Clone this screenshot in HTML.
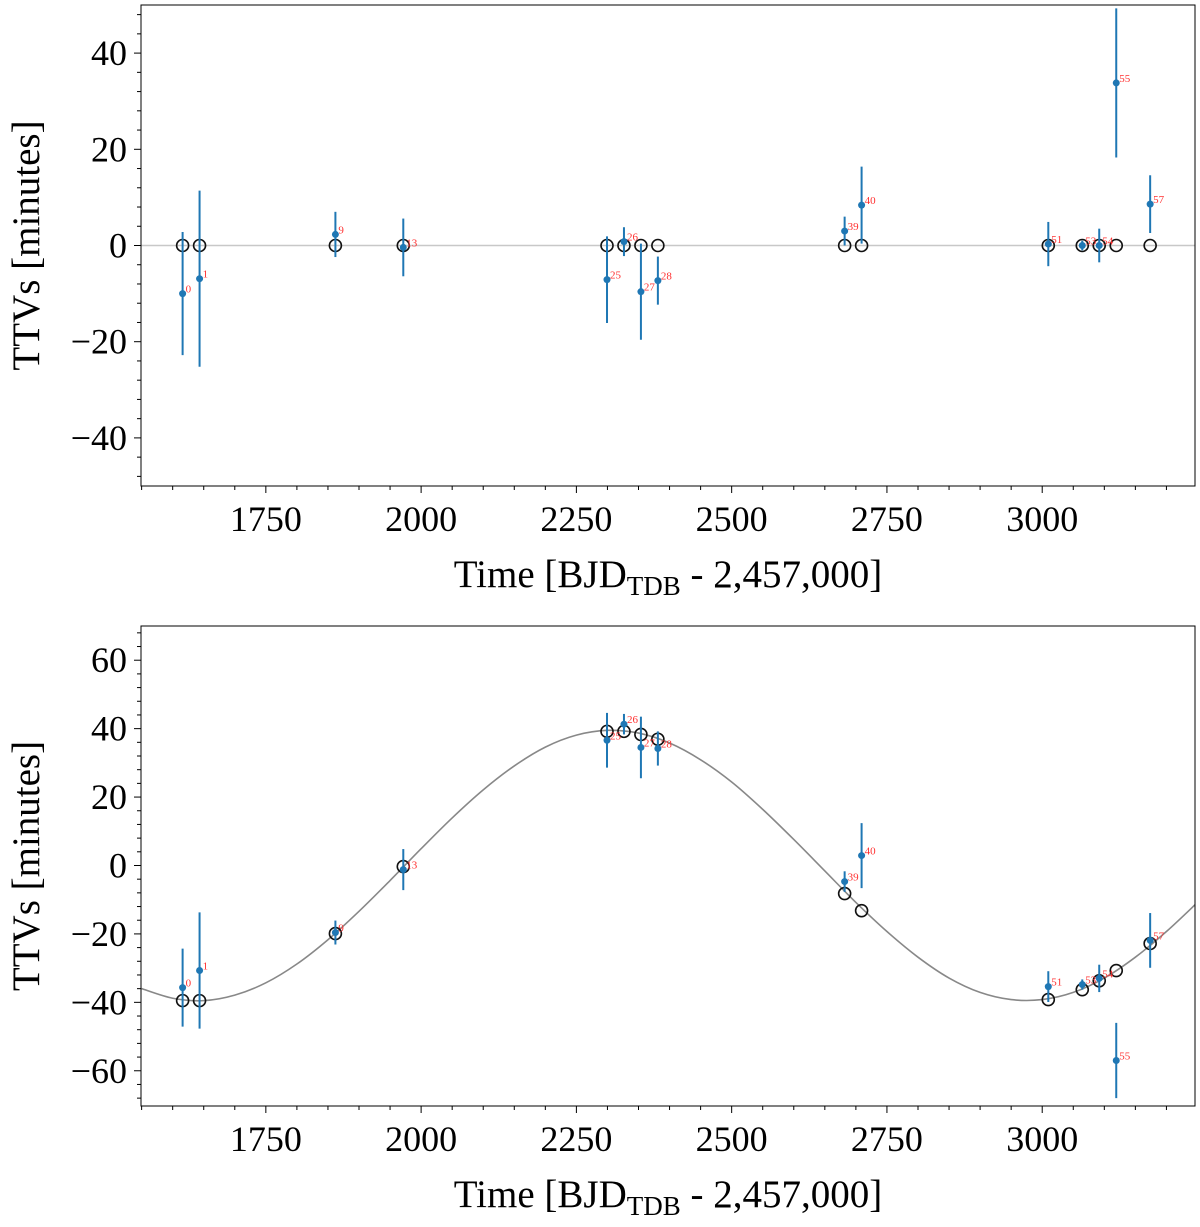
<!DOCTYPE html>
<html><head><meta charset="utf-8"><style>
html,body{margin:0;padding:0;background:#fff;}
svg text{font-family:"Liberation Serif","DejaVu Serif",serif;}
</style></head><body>
<svg id="chart" width="1200" height="1222" viewBox="0 0 1200 1222" xmlns="http://www.w3.org/2000/svg"></svg>
<script>
const epochs = [0,1,9,13,25,26,27,28,39,40,51,53,54,55,57];
const times = [1616.0,1643.3,1862.0,1971.3,2299.3,2326.6,2353.9,2381.2,2681.9,2709.2,3009.8,3064.5,3091.8,3119.2,3173.8];
const topObs = [-10.0,-6.9,2.3,-0.4,-7.1,0.8,-9.6,-7.3,3.0,8.4,0.3,0.0,0.0,33.8,8.6];
const topErr = [12.8,18.3,4.7,6,9,3,10,5,3,8,4.6,1,3.5,15.5,6];
const topModel = [0,0,0,0,0,0,0,0,0,0,0,0,0,0,0];
const botObs = [-35.7,-30.7,-19.6,-1.2,36.6,41.3,34.5,34.2,-4.7,2.9,-35.4,-34.8,-33.0,-57.0,-21.9];
const botErr = [11.4,17,3.5,6,8,3,9,5,3,9.5,4.5,1.5,4,11,8];
const botModel = [-39.5,-39.5,-19.9,-0.3,39.2,39.2,38.3,36.9,-8.2,-13.2,-39.2,-36.3,-33.7,-30.7,-22.8];
const curveT = [1550,1600,1650,1700,1750,1800,1850,1900,1950,2000,2050,2100,2150,2200,2250,2300,2350,2400,2450,2500,2550,2600,2650,2700,2750,2800,2850,2900,2950,3000,3050,3100,3150,3200,3250];
const curveV = [-36.0,-38.8,-39.5,-37.9,-34.3,-28.8,-21.7,-13.4,-4.4,4.9,13.9,22.1,29.1,34.6,38.1,39.5,38.7,35.8,30.9,24.4,16.4,7.6,-1.6,-10.8,-19.3,-26.8,-32.9,-37.1,-39.2,-39.2,-37.1,-32.9,-26.8,-19.3,-10.8];
const xTicks = [1750,2000,2250,2500,2750,3000];
const topYTicks = [-40,-20,0,20,40];
const botYTicks = [-60,-40,-20,0,20,40,60];

const NS = "http://www.w3.org/2000/svg";
const svg = document.getElementById('chart');
function mk(tag, attrs, parent){const e=document.createElementNS(NS,tag);for(const k in attrs)e.setAttribute(k,attrs[k]);(parent||svg).appendChild(e);return e;}
const defs = mk('defs',{});

function panel(cfg){
  const L=141,R=1195,T=cfg.top,B=cfg.bottom;
  const xmin=1549,xmax=3246;
  const xs=t=>L+(t-xmin)/(xmax-xmin)*(R-L);
  const ys=v=>B-(v-cfg.ymin)/(cfg.ymax-cfg.ymin)*(B-T);
  const cp=mk('clipPath',{id:'clip-'+cfg.name},defs);
  mk('rect',{x:L,y:T,width:R-L,height:B-T},cp);
  const g=mk('g',{});
  
  
  for(let t=1550;t<=3246;t+=50){
    const major=xTicks.indexOf(t)>=0;
    const tk=mk('line',{x1:xs(t),x2:xs(t),y1:B,y2:B+(major?7:4),stroke:'#000','stroke-width':1},g);
    
    
  }
  xTicks.forEach(t=>{
    const tx=mk('text',{x:xs(t),y:B+45,'font-size':36,'text-anchor':'middle'},g);
    
    
    tx.textContent=t;
  });
  for(let v=Math.ceil(cfg.ymin/4)*4;v<=cfg.ymax;v+=4){
    const major=v%20===0;
    const tk=mk('line',{x1:L,x2:L-(major?7:4),y1:ys(v),y2:ys(v),stroke:'#000','stroke-width':1},g);
    
    
  }
  cfg.yTicks.forEach(v=>{
    const tx=mk('text',{x:L-14,y:ys(v)+12,'font-size':36,'text-anchor':'end'},g);
    
    
    tx.textContent=(v<0?'\u2212'+(-v):v);
  });
  const xl=mk('text',{x:668,y:B+101,'font-size':39,'text-anchor':'middle'},g);
  
  
  xl.innerHTML='Time [BJD<tspan font-size="27" dy="8">TDB</tspan><tspan dy="-8"> - 2,457,000]</tspan>';
  const yl=mk('text',{x:0,y:0,'font-size':39,'text-anchor':'middle',transform:`translate(39,${(T+B)/2}) rotate(-90)`},g);
  
  
  yl.textContent='TTVs [minutes]';
  const clip=mk('g',{'clip-path':`url(#clip-${cfg.name})`},g);
  if(cfg.zeroLine){
    const zl=mk('line',{x1:L,x2:R,y1:ys(0),y2:ys(0),stroke:'#c8c8c8','stroke-width':1.5},clip);
    
    
  }
  if(cfg.curve){
    const P=curveT.map((t,i)=>[xs(t),ys(curveV[i])]);
    let d='M'+P[0][0].toFixed(2)+','+P[0][1].toFixed(2);
    for(let i=0;i<P.length-1;i++){
      const p0=P[Math.max(0,i-1)],p1=P[i],p2=P[i+1],p3=P[Math.min(P.length-1,i+2)];
      const c1=[p1[0]+(p2[0]-p0[0])/6,p1[1]+(p2[1]-p0[1])/6];
      const c2=[p2[0]-(p3[0]-p1[0])/6,p2[1]-(p3[1]-p1[1])/6];
      d+=`C${c1[0].toFixed(2)},${c1[1].toFixed(2)} ${c2[0].toFixed(2)},${c2[1].toFixed(2)} ${p2[0].toFixed(2)},${p2[1].toFixed(2)}`;
    }
    const p=mk('path',{d:d,fill:'none',stroke:'#888','stroke-width':1.6},clip);
    
    
  }
  cfg.model.forEach((v,i)=>{
    const c=mk('circle',{cx:xs(times[i]),cy:ys(v),r:6,fill:'none',stroke:'#111','stroke-width':1.6},clip);
    
    
  });
  cfg.obs.forEach((v,i)=>{
    const x=xs(times[i]);
    const e=mk('line',{x1:x,x2:x,y1:ys(v+cfg.err[i]),y2:ys(v-cfg.err[i]),stroke:'#1f77b4','stroke-width':2},clip);
    
    
    const c=mk('circle',{cx:x,cy:ys(v),r:3.5,fill:'#1f77b4'},clip);
    
    
    const lb=mk('text',{x:x+3,y:ys(v)-1,'font-size':11,fill:'#ff3030'},clip);
    
    
    lb.textContent=epochs[i];
  });
  const fr=mk('rect',{x:L,y:T,width:R-L,height:B-T,fill:'none',stroke:'#000','stroke-width':1},g);
  
  
}
panel({name:'top-panel',top:5,bottom:486,ymin:-50,ymax:50,yTicks:topYTicks,obs:topObs,err:topErr,model:topModel,zeroLine:true,curve:false});
panel({name:'bottom-panel',top:626,bottom:1106,ymin:-70.3,ymax:70,yTicks:botYTicks,obs:botObs,err:botErr,model:botModel,zeroLine:false,curve:true});
</script>
</body></html>
